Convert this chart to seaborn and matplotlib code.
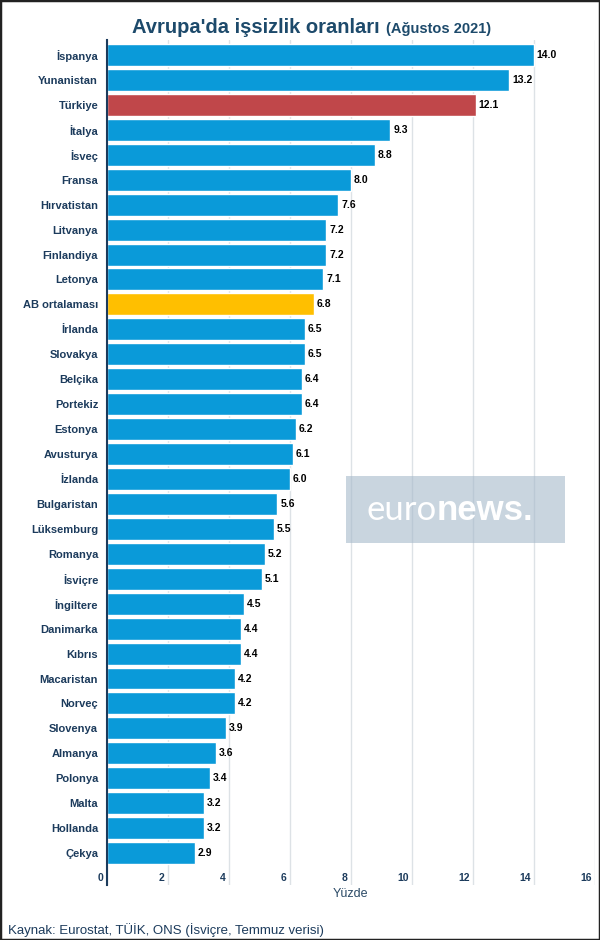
import matplotlib
matplotlib.use("Agg")
import matplotlib.pyplot as plt
import matplotlib.transforms as mtransforms
from matplotlib.patches import Rectangle
import pandas as pd
import seaborn as sns

# %%
# Avrupa'da işsizlik oranları (Ağustos 2021)
countries = [
    "İspanya", "Yunanistan", "Türkiye", "İtalya", "İsveç", "Fransa",
    "Hırvatistan", "Litvanya", "Finlandiya", "Letonya", "AB ortalaması",
    "İrlanda", "Slovakya", "Belçika", "Portekiz", "Estonya", "Avusturya",
    "İzlanda", "Bulgaristan", "Lüksemburg", "Romanya", "İsviçre",
    "İngiltere", "Danimarka", "Kıbrıs", "Macaristan", "Norveç", "Slovenya",
    "Almanya", "Polonya", "Malta", "Hollanda", "Çekya",
]
rates = [
    14.0, 13.2, 12.1, 9.3, 8.8, 8.0, 7.6, 7.2, 7.2, 7.1, 6.8,
    6.5, 6.5, 6.4, 6.4, 6.2, 6.1, 6.0, 5.6, 5.5, 5.2, 5.1,
    4.5, 4.4, 4.4, 4.2, 4.2, 3.9, 3.6, 3.4, 3.2, 3.2, 2.9,
]
x_ticks = [0, 2, 4, 6, 8, 10, 12, 14, 16]

BLUE = "#0a9ad9"
highlight = {"Türkiye": "#c0474a", "AB ortalaması": "#ffbf00"}
NAVY = "#1c3b5c"

df = pd.DataFrame({"country": countries, "rate": rates})
palette = {c: highlight.get(c, BLUE) for c in countries}

# %%
sns.set_style("white")
plt.rcParams["font.family"] = ["Liberation Sans", "DejaVu Sans"]

fig = plt.figure(figsize=(6, 9.4), dpi=100)
ax = fig.add_axes([0.1775, 0.0585, 0.814, 0.8989])
ax.set_facecolor("none")

sns.barplot(data=df, x="rate", y="country", hue="country", palette=palette,
            legend=False, width=0.88, saturation=1, ax=ax)

for cont in ax.containers:
    ax.bar_label(cont, fmt="%.1f", padding=2, fontsize=7.5, fontweight="bold",
                 color="black")

ax.set_xlim(0, 16)
ax.set_ylim(len(countries) - 1 + 1.28, -0.6)
ax.set_xticks(x_ticks)
ax.set_xticklabels([str(t) for t in x_ticks])
ax.set_ylabel("")
ax.set_xlabel("Yüzde", fontsize=9, color="#2b4a66")
ax.xaxis.set_label_coords(0.5, -0.004)

ax.xaxis.grid(True, color="#dde2e6", lw=1)
ax.yaxis.grid(False)
ax.set_axisbelow(True)

for s in ["top", "right", "bottom"]:
    ax.spines[s].set_visible(False)
ax.spines["left"].set_color(NAVY)
ax.spines["left"].set_linewidth(1.5)

ax.tick_params(axis="y", length=0, pad=6)
ax.tick_params(axis="x", length=0, pad=-9)
for lab in ax.get_yticklabels():
    lab.set_fontsize(8)
    lab.set_fontweight("bold")
    lab.set_color(NAVY)
shift = mtransforms.ScaledTranslation(-3 / 100, 0, fig.dpi_scale_trans)
for lab in ax.get_xticklabels():
    lab.set_fontsize(7.5)
    lab.set_fontweight("bold")
    lab.set_color(NAVY)
    lab.set_ha("right")
    lab.set_transform(lab.get_transform() + shift)

# title
fig.text(380 / 600, 1 - 33 / 940, "Avrupa'da işsizlik oranları", ha="right",
         va="baseline", fontsize=14.5, fontweight="bold", color="#1d4a6b")
fig.text(386 / 600, 1 - 33 / 940, "(Ağustos 2021)", ha="left",
         va="baseline", fontsize=10.5, fontweight="bold", color="#1d4a6b")

# watermark (semi-transparent, gridlines show through)
fig.patches.append(Rectangle((346 / 600, 1 - 543 / 940), 219 / 600, 67 / 940,
                             transform=fig.transFigure, facecolor="#a5b9cb",
                             alpha=0.6, edgecolor="none", zorder=5))
fig.text(437 / 600, 1 - 510 / 940, "euro", ha="right", va="center",
         fontsize=25, color="white", family=["Lato", "DejaVu Sans"], zorder=6)
fig.text(437 / 600, 1 - 510 / 940, "news.", ha="left", va="center",
         fontsize=25, color="white", family=["Liberation Sans", "DejaVu Sans"],
         fontweight="bold", zorder=6)

# source
fig.text(8 / 600, 1 - 934 / 940, "Kaynak: Eurostat, TÜİK, ONS (İsviçre, Temmuz verisi)",
         ha="left", va="baseline", fontsize=9.5, color=NAVY)

# frame
fig.patches.append(Rectangle((0, 0), 1, 1, transform=fig.transFigure,
                             fill=False, edgecolor="#222222", lw=2.5, zorder=10))

fig.savefig("out.png", dpi=100)
